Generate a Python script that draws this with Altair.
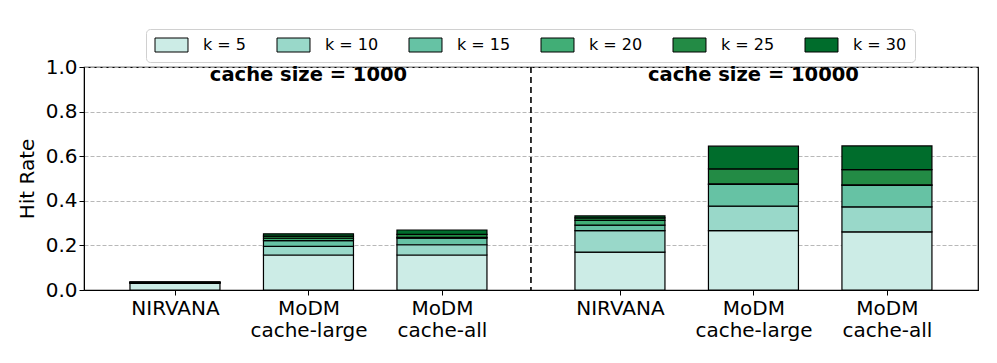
import altair as alt
import pandas as pd

# ---- data ----
groups = ["cache size = 1000", "cache size = 10000"]
methods = ["NIRVANA", "MoDM cache-large", "MoDM cache-all"]
k_labels = ["k = 5", "k = 10", "k = 15", "k = 20", "k = 25", "k = 30"]
colors = ["#ccece6", "#99d8c9", "#66c2a4", "#41ae76", "#238b45", "#006d2c"]

# segment increments per k, bar order: [g1-NIRVANA, g1-large, g1-all, g2-NIRVANA, g2-large, g2-all]
k5 = [0.030, 0.157, 0.157, 0.170, 0.266, 0.261]
k10 = [0.002, 0.039, 0.046, 0.096, 0.110, 0.112]
k15 = [0.001, 0.025, 0.030, 0.025, 0.097, 0.096]
k20 = [0.001, 0.011, 0.003, 0.021, 0.003, 0.003]
k25 = [0.001, 0.010, 0.013, 0.011, 0.067, 0.068]
k30 = [0.001, 0.010, 0.020, 0.009, 0.102, 0.106]
series = [k5, k10, k15, k20, k25, k30]

group_step = 3 + 1 / 3.0  # spacing between groups (layout)

rows = []
positions = []
for gi, g in enumerate(groups):
    for mi, m in enumerate(methods):
        positions.append(gi * group_step + mi)
for ki, (kl, vals) in enumerate(zip(k_labels, series)):
    for bi, v in enumerate(vals):
        rows.append({"pos": positions[bi], "k": kl, "korder": ki, "value": v})
df = pd.DataFrame(rows)

label_df = pd.DataFrame({"pos": [gi * group_step + 1 for gi in range(len(groups))],
                         "y": [0.963] * len(groups), "text": groups})
sep_df = pd.DataFrame({"pos": [(2 + group_step) / 2.0]})

label_list = "[" + ",".join("'" + m + "'" for m in methods) + "]"
label_expr = f"split({label_list}[floor(datum.value + 0.01) % 3], ' ')"

xdom = [-0.644, 5.978]
xscale = alt.Scale(domain=xdom, nice=False, zero=False)
yscale = alt.Scale(domain=[0, 1], nice=False)

bars = alt.Chart(df).mark_bar(size=90, stroke="black", strokeWidth=1.2).encode(
    x=alt.X("pos:Q", scale=xscale,
            axis=alt.Axis(values=positions, labelExpr=label_expr, title=None, grid=False,
                          tickSize=5, tickColor="black", domainColor="black",
                          labelFontSize=20, labelLineHeight=22, labelPadding=3,
                          labelColor="black")),
    y=alt.Y("value:Q", stack="zero", scale=yscale,
            axis=alt.Axis(values=[0, 0.2, 0.4, 0.6, 0.8, 1.0], format=".1f", title="Hit Rate",
                          titleFontSize=20, titleFontWeight="normal", titleColor="black",
                          labelFontSize=20, labelColor="black", tickSize=5, tickColor="black",
                          domainColor="black", grid=True, gridColor="#b0b0b0",
                          gridDash=[4, 2], gridWidth=0.9, titlePadding=8)),
    color=alt.Color("k:N", scale=alt.Scale(domain=k_labels, range=colors),
                    legend=alt.Legend(title=None, orient="none", legendX=62, legendY=-38,
                                      direction="horizontal", columns=6, gridAlign="each",
                                      symbolType="M-1,-1H3.714V1H-1Z", symbolSize=196,
                                      symbolStrokeColor="black", symbolStrokeWidth=1,
                                      symbolOpacity=1, labelFontSize=16, labelOffset=33,
                                      labelColor="black", columnPadding=28,
                                      padding=8, strokeColor="#d0d0d0", cornerRadius=4,
                                      fillColor="white")),
    order=alt.Order("korder:Q", sort="ascending"),
)

sep = alt.Chart(sep_df).mark_rule(color="black", strokeDash=[6, 4], strokeWidth=1.6).encode(
    x=alt.X("pos:Q", scale=xscale)
)

titles = alt.Chart(label_df).mark_text(fontSize=19.5, fontWeight="bold", color="black",
                                       baseline="middle", align="center").encode(
    x=alt.X("pos:Q", scale=xscale),
    y=alt.Y("y:Q", scale=yscale),
    text="text:N",
)

chart = alt.layer(bars, sep, titles).properties(
    width=894, height=223,
    padding={"left": 76, "top": 59, "right": 11, "bottom": 57},
    autosize=alt.AutoSizeParams(type="none"),
).configure(font="DejaVu Sans").configure_view(stroke="black", strokeWidth=1.2)

chart.save("out.html", embed_options={"renderer": "svg", "actions": False})
